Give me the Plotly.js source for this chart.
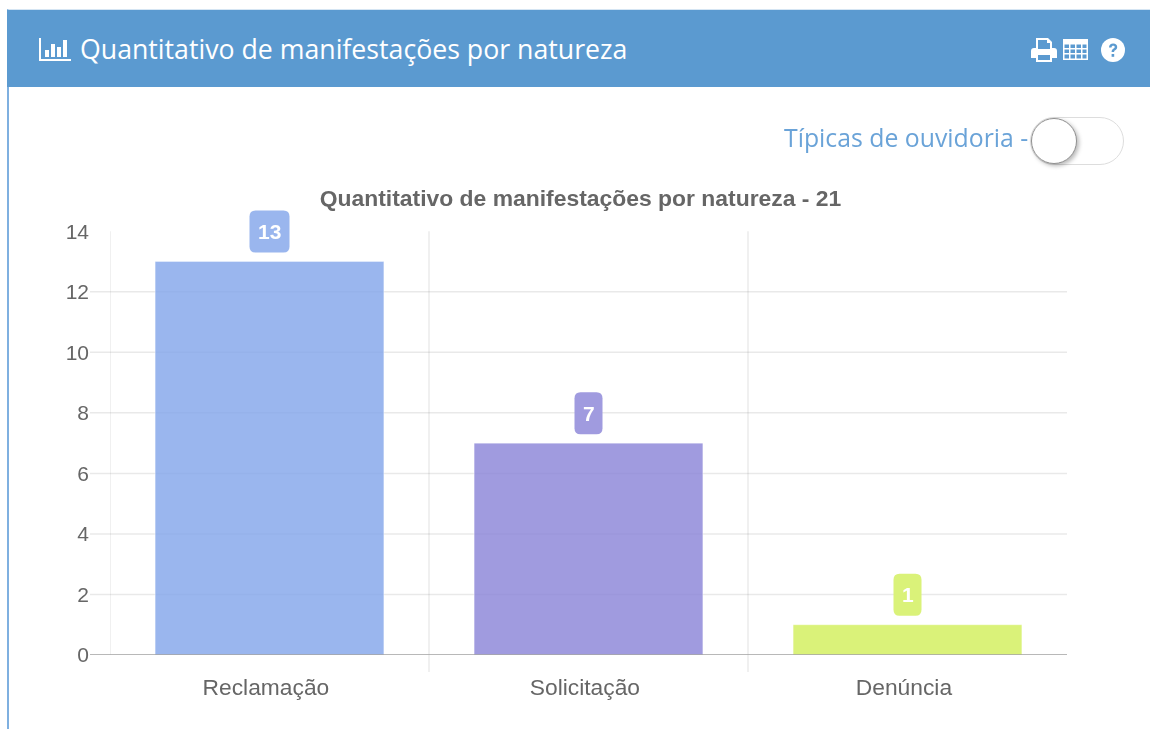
<!DOCTYPE html>
<html lang="pt">
<head>
<meta charset="utf-8">
<title>Quantitativo de manifestações por natureza</title>
<script src="https://cdn.plot.ly/plotly-3.0.1.min.js"></script>
<style>
html,body{margin:0;padding:0;background:#fff;width:1150px;height:729px;overflow:hidden}
#page{position:absolute;left:0;top:0;width:1150px;height:729px;filter:blur(0.45px)}
#panel{position:absolute;left:7px;top:9px;width:1143px;height:720px;border-left:2px solid #7fb0e0;border-top:1px solid #d5e5f3;box-sizing:border-box}
#head{position:absolute;left:7px;top:10px;width:1143px;height:77px;background:#5b9ad0}
#htitle{position:absolute;left:80px;top:31px;font:26.7px "Open Sans",sans-serif;color:#fff;white-space:nowrap;line-height:36px}
#chart{position:absolute;left:0;top:0;width:1150px;height:729px}
#tlabel{position:absolute;left:784px;top:121px;font:24.8px "Open Sans",sans-serif;color:#6aa3d8;white-space:nowrap;line-height:32px}
#track{position:absolute;left:1030px;top:117px;width:94px;height:48px;border:1px solid #ddd;border-radius:25px;box-sizing:border-box;background:#fff}
#knob{position:absolute;left:1031px;top:118px;width:46px;height:46px;border-radius:50%;background:#fff;border:1.5px solid #909090;box-sizing:border-box;box-shadow:2px 2px 4px rgba(0,0,0,.28)}
svg.ic{position:absolute;fill:#fff}
</style>
</head>
<body>
<div id="page">
<div id="panel"></div>
<div id="head"></div>
<svg class="ic" style="left:39px;top:38px" width="32" height="24" viewBox="0 0 32 24">
<path d="M0 0h2v21h30v2H0z"/><rect x="6" y="12" width="4" height="7"/><rect x="12" y="6" width="4" height="13"/><rect x="18" y="9" width="4" height="10"/><rect x="24" y="2" width="4" height="17"/>
</svg>
<div id="htitle">Quantitativo de manifestações por natureza</div>
<svg class="ic" style="left:1031px;top:38px" width="26" height="24" viewBox="0 0 26 24">
<path fill-rule="evenodd" d="M5 0h12l4 4v6h2a3 3 0 0 1 3 3v7h-5v4H5v-4H0v-7a3 3 0 0 1 3-3h2zM7 2v9h12V5h-3V2zM7 17v5h12v-5z"/>
</svg>
<svg class="ic" style="left:1063px;top:39px" width="25" height="21" viewBox="0 0 25 21">
<path fill-rule="evenodd" d="M0 0h25v21H0zM1.500 5.500v3.500h4.500V5.500zM7.500 5.500v3.500h4.500V5.500zM13.500 5.500v3.500h4.500V5.500zM19.500 5.500v3.500h4V5.500zM1.500 10.500v3.500h4.500v-3.500zM7.500 10.500v3.500h4.500v-3.500zM13.500 10.500v3.500h4.500v-3.500zM19.500 10.500v3.500h4v-3.500zM1.500 15.500v4h4.500v-4zM7.500 15.500v4h4.500v-4zM13.500 15.500v4h4.500v-4zM19.500 15.500v4h4v-4z"/>
</svg>
<svg class="ic" style="left:1101px;top:38px" width="24" height="24" viewBox="0 0 24 24">
<circle cx="12" cy="12" r="12"/>
<path d="M8 9.5c0-2.500 1.800-4 4.200-4 2.300 0 4 1.500 4 3.500 0 1.800-1 2.600-2 3.300-.8.500-1.100.9-1.100 1.700h-2.500c0-1.700.7-2.500 1.700-3.200.8-.6 1.400-1 1.400-1.700 0-.8-.6-1.300-1.500-1.300-1 0-1.600.6-1.700 1.700z" fill="#5b9ad0"/>
<rect x="10.600" y="16" width="2.600" height="2.800" fill="#5b9ad0"/>
</svg>
<div id="tlabel">Típicas de ouvidoria -</div>
<div id="track"></div>
<div id="knob"></div>
<div id="chart"></div>
</div>
<script>
var categories = ["Reclamação", "Solicitação", "Denúncia"];
var values = [13, 7, 1];
var barColors = ["rgba(129,164,234,0.8)", "rgba(136,130,215,0.8)", "rgba(209,239,87,0.8)"];
var badgeColors = ["#9ab6ee", "#a09bdf", "#daf279"];
var yTicks = [0, 2, 4, 6, 8, 10, 12, 14];
var chartTitle = "Quantitativo de manifestações por natureza - 21";

var W = 1150, H = 729, L = 110, R = 83, B = 73.5;
var yTop = 14, yMax = 15;              // the plot extends above 14 so badges are not clipped
var unit = 424.5 / yTop, plotH = unit * yMax, T = H - B - plotH, plotW = W - L - R;
var gridH = "rgba(0,0,0,0.085)", gridV = "rgba(0,0,0,0.06)";
var fontFam = "Liberation Sans, Arial, sans-serif";
var labelOffset = -3.6 * 3 / plotW;    // category labels sit slightly left of the bar centres
var shapes = [];

yTicks.slice(1, -1).forEach(function (v) {
  shapes.push({type: "line", layer: "below", xref: "paper", yref: "y", x0: -20 / plotW, x1: 1, y0: v, y1: v,
    line: {color: gridH, width: 1.5}});
});
[-0.5, 0.5, 1.5].forEach(function (x, i) {
  shapes.push({type: "line", layer: "below", xref: "x", yref: "paper", x0: x, x1: x,
    y0: i === 0 ? 0 : -17 / plotH, y1: yTop / yMax, line: {color: gridV, width: 2}});
});
shapes.push({type: "line", layer: "above", xref: "paper", yref: "y", x0: -20 / plotW, x1: 1, y0: 0, y1: 0,
  line: {color: "#a0a0a0", width: 1.5}});

function badgePath(w, h, cy, r) {
  var x = w / 2, t = cy + h / 2, b = cy - h / 2;
  return "M" + (-x + r) + "," + b + " L" + (x - r) + "," + b + " Q" + x + "," + b + " " + x + "," + (b + r) +
    " L" + x + "," + (t - r) + " Q" + x + "," + t + " " + (x - r) + "," + t + " L" + (-x + r) + "," + t +
    " Q" + (-x) + "," + t + " " + (-x) + "," + (t - r) + " L" + (-x) + "," + (b + r) +
    " Q" + (-x) + "," + b + " " + (-x + r) + "," + b + " Z";
}

var annotations = values.map(function (v, i) {
  shapes.push({type: "path", layer: "above", xref: "x", yref: "y", xsizemode: "pixel", ysizemode: "pixel",
    xanchor: i, yanchor: v, path: badgePath(String(v).length > 1 ? 40 : 28, 42, 30, 6),
    fillcolor: badgeColors[i], line: {width: 0}});
  return {x: categories[i], y: v, xref: "x", yref: "y", text: String(v), showarrow: false, yshift: 30,
    xanchor: "center", yanchor: "middle",
    font: {family: fontFam, size: 21, color: "#fff", weight: 700}};
});

Plotly.newPlot("chart", [{
  type: "bar",
  x: categories,
  y: values,
  width: 0.717,
  marker: {color: barColors, line: {color: "rgba(255,255,255,0.35)", width: 1}},
  hoverinfo: "x+y"
}], {
  width: W, height: H,
  margin: {l: L, r: R, t: T, b: B, pad: 0},
  paper_bgcolor: "rgba(0,0,0,0)",
  plot_bgcolor: "rgba(0,0,0,0)",
  showlegend: false,
  title: {text: "<b>" + chartTitle + "</b>", xref: "container", yref: "container", x: 580.5 / W, y: 1 - 198 / H,
    xanchor: "center", yanchor: "middle",
    font: {family: fontFam, size: 22.9, color: "#666"}},
  xaxis: {type: "category", categoryarray: categories, range: [-0.5, 2.5], showgrid: false, zeroline: false, showline: false, ticks: "",
    fixedrange: true, ticklabelstandoff: 16, tickmode: "array",
    tickvals: categories.map(function (c, i) { return i + labelOffset; }), ticktext: categories,
    tickfont: {family: fontFam, size: 22.8, color: "#666"}},
  yaxis: {range: [0, yMax], tickmode: "array", tickvals: yTicks, ticktext: yTicks.map(String), showgrid: false, zeroline: false,
    showline: false, ticks: "", fixedrange: true, ticklabelstandoff: 20,
    tickfont: {family: fontFam, size: 21, color: "#666"}},
  shapes: shapes,
  annotations: annotations
}, {displayModeBar: false, responsive: false});
</script>
</body>
</html>
